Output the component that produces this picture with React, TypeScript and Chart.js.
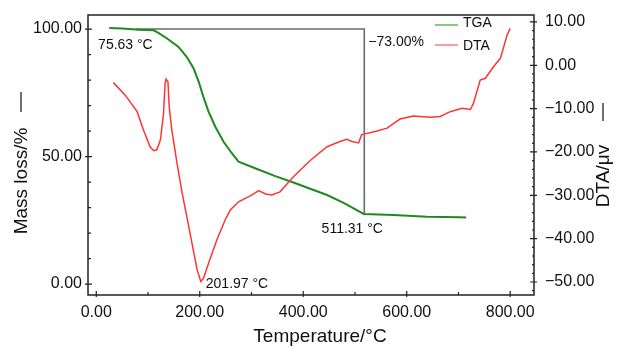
import React, { useEffect, useRef } from 'react';
import { Chart, registerables } from 'chart.js';

Chart.register(...registerables);

// ---------- data ----------
const tgaTemp = [25, 50, 82, 111, 120, 137, 159, 175, 188, 198, 207, 217, 230, 246, 262, 275, 307, 346, 381, 446, 478, 517, 575, 639, 703, 715];
const tgaMass = [100.4, 100.2, 99.7, 99.5, 98.5, 96.3, 93, 89, 84.6, 79.3, 73.4, 67.6, 61.7, 55.8, 51.3, 48, 45.4, 42.3, 39.8, 34.9, 31.8, 27.5, 27.1, 26.4, 26.2, 26.1];

const dtaTemp = [33, 56, 79, 91, 104, 111, 117, 124, 130, 133, 135, 138.5, 141, 146, 156, 166, 175, 185, 195, 201.97, 207, 217, 233, 249, 259, 275, 301, 314, 327, 339, 355, 381, 414, 446, 471, 484, 494, 507, 513, 539, 562, 587, 613, 645, 665, 684, 707, 723, 729, 742, 752, 768, 781, 794, 800];
const dtaValue = [-4.0, -6.9, -10.7, -14.9, -18.8, -19.7, -19.5, -17.2, -11.1, -4.2, -3.2, -3.8, -9.6, -14.9, -22.6, -29.5, -34.9, -41.1, -47.2, -49.9, -49.2, -45.7, -40.3, -35.7, -33.4, -31.5, -29.9, -28.9, -29.7, -29.9, -29.2, -25.7, -21.9, -18.8, -17.6, -17.1, -17.6, -17.9, -16.0, -15.3, -14.5, -12.4, -11.7, -12.0, -11.8, -10.7, -9.9, -10.2, -8.8, -3.4, -3.0, -0.3, 1.6, 7.0, 8.5];

// step-line marking the mass loss
const bracketTemp = [75.63, 518, 518];
const bracketMass = [100, 100, 27.2];

// ticks
const xTicks = [0, 100, 200, 300, 400, 500, 600, 700, 800];
const xLabelTicks = [0, 200, 400, 600, 800];
const yTicks = [0, 10, 20, 30, 40, 50, 60, 70, 80, 90, 100];
const yLabelTicks = [0, 50, 100];
const y1Ticks = [-52, -50, -48, -46, -44, -42, -40, -38, -36, -34, -32, -30, -28, -26, -24, -22, -20, -18, -16, -14, -12, -10, -8, -6, -4, -2, 0, 2, 4, 6, 8, 10];
const y1LabelTicks = [-50, -40, -30, -20, -10, 0, 10];

const FONT = '"Liberation Sans", Arial, Helvetica, sans-serif';
const TEXT = '#111111';

const fmt = (v: number) => v.toFixed(2).replace('-', '\u2212');

const noPad = (s: any) => {
  s.paddingTop = 0; s.paddingBottom = 0; s.paddingLeft = 0; s.paddingRight = 0;
};

const decor = {
  id: 'decor',
  afterDraw(chart: any) {
    const { ctx, chartArea: a, scales } = chart;
    const x = scales.x, y = scales.y, y1 = scales.y1;
    ctx.save();
    // box
    ctx.strokeStyle = '#222';
    ctx.lineWidth = 1.5;
    ctx.strokeRect(a.left, a.top, a.right - a.left, a.bottom - a.top);
    // ticks
    ctx.lineWidth = 1.2;
    ctx.beginPath();
    xTicks.forEach((v) => {
      const px = x.getPixelForValue(v);
      const major = xLabelTicks.includes(v);
      ctx.moveTo(px, a.bottom + (major ? 2 : 0));
      ctx.lineTo(px, a.bottom - (major ? 4 : 3));
    });
    yTicks.forEach((v) => {
      const py = y.getPixelForValue(v);
      const major = yLabelTicks.includes(v);
      ctx.moveTo(a.left - (major ? 3 : 0), py);
      ctx.lineTo(a.left + (major ? 4 : 3), py);
    });
    y1Ticks.forEach((v) => {
      const py = y1.getPixelForValue(v);
      const major = y1LabelTicks.includes(v);
      ctx.moveTo(a.right + (major ? 3 : 0), py);
      ctx.lineTo(a.right - (major ? 4 : 2), py);
    });
    ctx.stroke();

    // annotation texts
    ctx.fillStyle = TEXT;
    ctx.font = `14px ${FONT}`;
    ctx.textBaseline = 'middle';
    ctx.textAlign = 'center';
    ctx.fillText('75.63 \u00B0C', x.getPixelForValue(75.63) - 10, y.getPixelForValue(100) + 16);
    ctx.fillText('511.31 \u00B0C', x.getPixelForValue(518) - 12, y.getPixelForValue(27.2) + 14);
    ctx.textAlign = 'left';
    ctx.fillText('201.97 \u00B0C', x.getPixelForValue(201.97) + 5, y1.getPixelForValue(-49.9) + 2.5);
    ctx.fillText('\u221273.00%', x.getPixelForValue(518) + 4, y.getPixelForValue(100) + 13);

    // legend
    const lx = a.right - 99;
    ctx.lineWidth = 1.5;
    ctx.strokeStyle = '#5cb85c';
    ctx.beginPath(); ctx.moveTo(lx, a.top + 10); ctx.lineTo(lx + 23, a.top + 10); ctx.stroke();
    ctx.strokeStyle = '#ff7a7a';
    ctx.beginPath(); ctx.moveTo(lx, a.top + 30); ctx.lineTo(lx + 23, a.top + 30); ctx.stroke();
    ctx.fillText('TGA', lx + 28, a.top + 8.5);
    ctx.fillText('DTA', lx + 28, a.top + 31.5);

    // axis titles
    ctx.font = `19px ${FONT}`;
    ctx.textAlign = 'center';
    ctx.fillText('Temperature/\u00B0C', 320, 337);
    ctx.save();
    ctx.translate(22, 181);
    ctx.rotate(-Math.PI / 2);
    ctx.fillText('Mass loss/%', 0, 0);
    ctx.restore();
    ctx.save();
    ctx.translate(604, 176);
    ctx.rotate(-Math.PI / 2);
    ctx.fillText('DTA/\u03BCv', 0, 0);
    ctx.restore();
    ctx.strokeStyle = '#111';
    ctx.lineWidth = 1.2;
    ctx.beginPath();
    ctx.moveTo(21, 92); ctx.lineTo(21, 112);
    ctx.moveTo(603, 103); ctx.lineTo(603, 121);
    ctx.stroke();
    ctx.restore();
  },
};

export default function App() {
  const ref = useRef<HTMLCanvasElement | null>(null);
  useEffect(() => {
    document.body.style.margin = '0';
    const canvas = ref.current!;
    const tickFont = { family: FONT, size: 16 };
    const chart = new Chart(canvas, {
      type: 'line',
      data: {
        datasets: [
          {
            label: 'bracket',
            data: bracketTemp.map((t, i) => ({ x: t, y: bracketMass[i] })),
            yAxisID: 'y',
            borderColor: '#6a6a6a',
            borderWidth: 1.6,
            pointRadius: 0,
            order: 3,
          },
          {
            label: 'TGA',
            data: tgaTemp.map((t, i) => ({ x: t, y: tgaMass[i] })),
            yAxisID: 'y',
            borderColor: '#1f8a1f',
            borderWidth: 2,
            pointRadius: 0,
            order: 2,
          },
          {
            label: 'DTA',
            data: dtaTemp.map((t, i) => ({ x: t, y: dtaValue[i] })),
            yAxisID: 'y1',
            borderColor: '#ff3535',
            borderWidth: 1.5,
            pointRadius: 0,
            order: 1,
          },
        ] as any,
      },
      options: {
        animation: false,
        responsive: false,
        devicePixelRatio: 1,
        layout: { padding: { top: 15, left: 0, right: 0, bottom: 0 } },
        plugins: { legend: { display: false }, tooltip: { enabled: false } },
        scales: {
          x: {
            type: 'linear',
            min: -16,
            max: 846,
            afterBuildTicks: (s: any) => { s.ticks = xTicks.map((v) => ({ value: v })); },
            afterFit: (s: any) => { s.height = 53; noPad(s); },
            ticks: {
              autoSkip: false, maxRotation: 0, padding: 8, color: TEXT, font: tickFont,
              callback: (v: any) => (xLabelTicks.includes(v) ? fmt(v) : ''),
            },
            grid: { display: false, drawTicks: false },
            border: { display: false },
          },
          y: {
            type: 'linear',
            position: 'left',
            min: -4.3,
            max: 105.5,
            afterBuildTicks: (s: any) => { s.ticks = yTicks.map((v) => ({ value: v })); },
            afterFit: (s: any) => { s.width = 88; noPad(s); },
            ticks: {
              autoSkip: false, padding: 6, color: TEXT, font: tickFont,
              callback: (v: any) => (yLabelTicks.includes(v) ? fmt(v) : ''),
            },
            grid: { display: false, drawTicks: false },
            border: { display: false },
          },
          y1: {
            type: 'linear',
            position: 'right',
            min: -53,
            max: 11.6,
            afterBuildTicks: (s: any) => { s.ticks = y1Ticks.map((v) => ({ value: v })); },
            afterFit: (s: any) => { s.width = 89; noPad(s); },
            ticks: {
              autoSkip: false, padding: 11, color: TEXT, font: tickFont,
              callback: (v: any) => (y1LabelTicks.includes(v) ? fmt(v) : ''),
            },
            grid: { display: false, drawTicks: false },
            border: { display: false },
          },
        },
      } as any,
      plugins: [decor],
    });
    return () => chart.destroy();
  }, []);
  return <canvas ref={ref} width={623} height={348} style={{ display: 'block' }} />;
}
